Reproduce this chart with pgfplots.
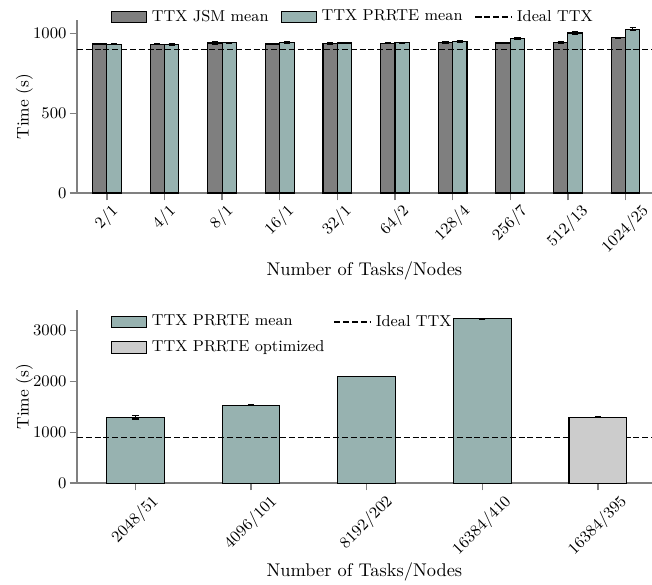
\documentclass[border=0pt]{standalone}
\usepackage{fontspec}
\usepackage{pgfplots}
\pgfplotsset{compat=1.18}
\definecolor{jsm}{HTML}{7F7F7F}
\definecolor{prrte}{HTML}{97B2B0}
\definecolor{opt}{HTML}{CCCCCC}
\definecolor{spine}{HTML}{808080}
\newcommand{\rl}[1]{\rotatebox{45}{#1}}
\pgfplotsset{
  mystyle/.style={
    scale only axis, width=312.5pt, height=94pt,
    axis x line*=bottom, axis y line*=left,
    axis line style={-, spine, line width=0.7pt},
    tick align=outside, major tick length=4pt,
    tick style={spine, line width=0.7pt},
    /pgf/number format/1000 sep={},
    /pgf/number format/assume math mode=true,
    ticklabel style={font=\fontsize{8.8}{10}\selectfont},
    xticklabel style={anchor=north, inner sep=1.5pt},
    yticklabel style={inner xsep=1.5pt},
    ylabel={Time (s)},
    xlabel={Number of Tasks/Nodes},
    label style={font=\fontsize{10}{12}\selectfont},
    ylabel style={at={(axis description cs:-0.0915,0.5)}, anchor=center, font=\fontsize{9.2}{11}\selectfont},
    legend cell align=left,
    legend style={draw=none, fill=none, inner sep=0pt,
      font=\fontsize{8.6}{10}\selectfont,
      nodes={inner xsep=0pt, inner ysep=1pt},
      /tikz/every odd column/.append style={column sep=2.6pt},
      /tikz/every even column/.append style={column sep=6.6pt}},
  },
  barleg/.style={legend image code/.code={\draw[##1, line width=0.6pt] (0pt,-3.1pt) rectangle (19pt,3.1pt);}},
  lineleg/.style={legend image code/.code={\draw[##1] (0pt,0pt) -- (19.5pt,0pt);}},
  errs/.style={error bars/.cd, y dir=both, y explicit,
    error bar style={black, line width=0.6pt},
    error mark options={rotate=90, mark size=1.7pt, black, line width=0.6pt}},
  ideal/.style={black, line width=0.8pt, dash pattern=on 3.3pt off 1.5pt, lineleg},
}
\begin{document}
\begin{tikzpicture}
\begin{axis}[mystyle,
  xmin=-0.52, xmax=9.46, ymin=0, ymax=1083,
  xtick={0,...,9},
  xticklabels={\rl{2/1},\rl{4/1},\rl{8/1},\rl{16/1},\rl{32/1},\rl{64/2},\rl{128/4},\rl{256/7},\rl{512/13},\rl{1024/25}},
  ytick={0,500,1000},
  xlabel style={at={(axis description cs:0.5,-0.451)}, anchor=center},
  legend columns=3,
  legend style={at={(0.0586,1.018)}, anchor=west},
]
\addplot[ybar, bar width=0.25, bar shift=0, fill=jsm, draw=black, line width=0.6pt, barleg, errs]
  coordinates {(-0.125,933)+-(0,3) (0.875,932)+-(0,4) (1.875,939)+-(0,8) (2.875,933)+-(0,3) (3.875,937)+-(0,4)
               (4.875,937)+-(0,3) (5.875,942)+-(0,7) (6.875,939)+-(0,3) (7.875,943)+-(0,4) (8.875,971)+-(0,5)};
\addlegendentry{TTX JSM mean}
\addplot[ybar, bar width=0.25, bar shift=0, fill=prrte, draw=black, line width=0.6pt, barleg, errs]
  coordinates {(0.125,931)+-(0,3) (1.125,932)+-(0,5) (2.125,942)+-(0,3) (3.125,940)+-(0,6) (4.125,939)+-(0,5)
               (5.125,940)+-(0,3) (6.125,948)+-(0,5) (7.125,966)+-(0,5) (8.125,1002)+-(0,8) (9.125,1025)+-(0,10)};
\addlegendentry{TTX PRRTE mean}
\addplot[ideal] coordinates {(-0.52,900) (9.46,900)};
\addlegendentry{Ideal TTX}
\end{axis}
\begin{axis}[mystyle, at={(0,-157.6pt)},
  xmin=-0.506, xmax=4.468, ymin=0, ymax=3400,
  xtick={0,...,4},
  xticklabels={\rl{2048/51},\rl{4096/101},\rl{8192/202},\rl{16384/410},\rl{16384/395}},
  ytick={0,1000,2000,3000},
  xlabel style={at={(axis description cs:0.5,-0.515)}, anchor=center},
  legend columns=2,
  legend style={at={(0.0586,0.984)}, anchor=north west, /tikz/row sep=4.5pt,
    /tikz/every even column/.append style={column sep=5pt}},
]
\addplot[ybar, bar width=0.5, bar shift=0, fill=prrte, draw=black, line width=0.6pt, barleg, errs]
  coordinates {(0,1290)+-(0,30) (1,1532)+-(0,6) (2,2096)+-(0,6) (3,3228)+-(0,6)};
\addlegendentry{TTX PRRTE mean}
\addplot[ideal] coordinates {(-0.506,900) (4.468,900)};
\addlegendentry{Ideal TTX}
\addplot[ybar, bar width=0.5, bar shift=0, fill=opt, draw=black, line width=0.6pt, barleg, errs]
  coordinates {(4,1297)+-(0,6)};
\addlegendentry{TTX PRRTE optimized}
\end{axis}
\pgfresetboundingbox
\path (-41.8pt,-212.5pt) rectangle (312.5pt,104.9pt);
\end{tikzpicture}
\end{document}
